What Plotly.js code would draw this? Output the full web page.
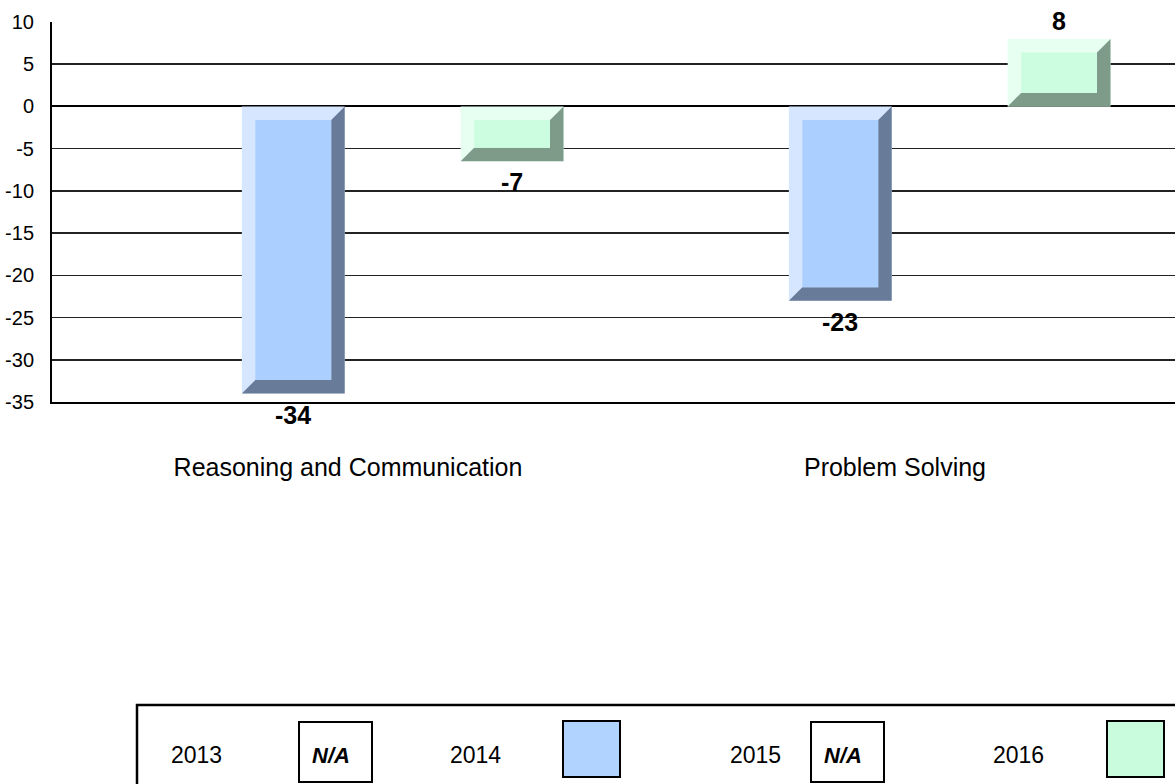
<!DOCTYPE html>
<html>
<head>
<meta charset="utf-8">
<script src="https://cdn.plot.ly/plotly-3.0.1.min.js"></script>
<style>
  html, body { margin: 0; padding: 0; background: #fff; }
  #chart { width: 1175px; height: 784px; }
</style>
</head>
<body>
<div id="chart"></div>
<script>
// ---- data ----
const categories = ['Reasoning and Communication', 'Problem Solving'];
const years = ['2013', '2014', '2015', '2016'];
const values2013 = [null, null];
const values2014 = [-34, -23];
const values2015 = [null, null];
const values2016 = [-6.5, 8];
const yTicks = [10, 5, 0, -5, -10, -15, -20, -25, -30, -35];

// colours per year (years without data get an N/A box in the legend)
const PALETTE = {
  '2014': { face: '#abcfff', light: '#d6e6ff', dark: '#687c99', swatch: '#b0d4ff' },
  '2016': { face: '#ccfde0', light: '#e6fff1', dark: '#7d9b88', swatch: '#c8fcdc' }
};

const W = 1175, H = 784;
const M = { l: 52, r: 0, t: 22, b: 382 };
const plotW = W - M.l - M.r, plotH = H - M.t - M.b;
const X_RANGE = [-0.5411, -0.5411 + plotW / 547];
const Y_RANGE = [-35, 10];
const BARGAP = 0.2, GROUPGAP = 0.06;
const BEVEL = 13.5; // px
const LABEL_GAP = 21; // px from bar end to label centre
const FONT = 'Liberation Sans, Arial, sans-serif';

const pxX = plotW / (X_RANGE[1] - X_RANGE[0]);
const pxY = plotH / (Y_RANGE[1] - Y_RANGE[0]);
// page pixels -> paper coords (legend only)
const px = v => (v - M.l) / plotW;
const py = v => (H - M.b - v) / plotH;

const series = [values2013, values2014, values2015, values2016];

const traces = series.map((vals, i) => {
  const pal = PALETTE[years[i]];
  return {
    type: 'bar',
    name: years[i],
    x: categories.map((c, k) => k),
    y: vals,
    marker: { color: pal ? pal.light : 'rgba(0,0,0,0)', line: { width: 0 } },
    hoverinfo: 'x+y+name'
  };
});

// bevel: dark right/bottom edge + front face on every bar, value label below/above
const shapes = [];
const annotations = [];
const slotW = (1 - BARGAP) / years.length;
const barW = slotW * (1 - GROUPGAP);
const bx = BEVEL / pxX, by = BEVEL / pxY;
series.forEach((vals, i) => {
  const pal = PALETTE[years[i]];
  if (!pal) return;
  vals.forEach((v, k) => {
    if (v === null) return;
    const c = k - (1 - BARGAP) / 2 + (i + 0.5) * slotW;
    const x0 = c - barW / 2, x1 = c + barW / 2;
    const top = Math.max(0, v), bot = Math.min(0, v);
    shapes.push({
      type: 'path', xref: 'x', yref: 'y', layer: 'above',
      path: `M${x1},${top} L${x1},${bot} L${x0},${bot} L${x0 + bx},${bot + by} ` +
            `L${x1 - bx},${bot + by} L${x1 - bx},${top - by} Z`,
      fillcolor: pal.dark, line: { width: 0 }
    });
    shapes.push({
      type: 'rect', xref: 'x', yref: 'y', layer: 'above',
      x0: x0 + bx, x1: x1 - bx, y0: bot + by, y1: top - by,
      fillcolor: pal.face, line: { width: 0 }
    });
    annotations.push({
      xref: 'x', yref: 'y', x: c, y: v,
      yshift: v < 0 ? -LABEL_GAP : LABEL_GAP - 3,
      text: v.toFixed(0), showarrow: false, xanchor: 'center', yanchor: 'middle',
      font: { family: FONT, size: 25, color: '#000', weight: 'bold' }
    });
  });
});

// ---- legend box (drawn by hand, it is a table in the original) ----
const LEG_TEXT_X = [196, 475, 755, 1018];
const LEG_BOX_X = [299, 563, 811, 1107];
shapes.push({
  type: 'rect', xref: 'paper', yref: 'paper',
  x0: px(137), x1: px(1190), y0: py(800), y1: py(705),
  line: { color: '#000', width: 2.5 }, fillcolor: 'rgba(0,0,0,0)'
});
years.forEach((yr, i) => {
  const pal = PALETTE[yr];
  annotations.push({
    xref: 'paper', yref: 'paper', x: px(LEG_TEXT_X[i]), y: py(755),
    text: yr, showarrow: false, xanchor: 'center', yanchor: 'middle',
    font: { family: FONT, size: 23, color: '#000' }
  });
  if (pal) {
    shapes.push({
      type: 'rect', xref: 'paper', yref: 'paper',
      x0: px(LEG_BOX_X[i]), x1: px(LEG_BOX_X[i] + 57), y0: py(777), y1: py(721),
      fillcolor: pal.swatch, line: { color: '#000', width: 2 }
    });
  } else {
    shapes.push({
      type: 'rect', xref: 'paper', yref: 'paper',
      x0: px(LEG_BOX_X[i]), x1: px(LEG_BOX_X[i] + 73), y0: py(782), y1: py(722),
      fillcolor: '#fff', line: { color: '#000', width: 2 }
    });
    annotations.push({
      xref: 'paper', yref: 'paper', x: px(LEG_BOX_X[i] + 11), y: py(755),
      text: '<b><i>N/A</i></b>', showarrow: false, xanchor: 'left', yanchor: 'middle',
      font: { family: FONT, size: 22, color: '#000' }
    });
  }
});

const layout = {
  width: W, height: H,
  margin: M,
  paper_bgcolor: '#fff',
  plot_bgcolor: '#fff',
  barmode: 'group',
  bargap: BARGAP,
  bargroupgap: GROUPGAP,
  showlegend: false,
  xaxis: {
    range: X_RANGE,
    tickvals: categories.map((c, k) => k),
    ticktext: categories,
    tickfont: { family: FONT, size: 25, color: '#000' },
    ticklabelstandoff: 42,
    showgrid: false,
    zeroline: false,
    showline: true, linecolor: '#000', linewidth: 2
  },
  yaxis: {
    range: Y_RANGE,
    tickvals: yTicks,
    ticktext: yTicks.map(String),
    tickfont: { family: FONT, size: 20, color: '#000' },
    ticklabelstandoff: 12,
    showgrid: true, gridcolor: '#222', gridwidth: 1.5,
    zeroline: true, zerolinecolor: '#000', zerolinewidth: 2,
    showline: true, linecolor: '#000', linewidth: 2
  },
  shapes: shapes,
  annotations: annotations
};

Plotly.newPlot('chart', traces, layout, { displayModeBar: false, staticPlot: true });
</script>
</body>
</html>
